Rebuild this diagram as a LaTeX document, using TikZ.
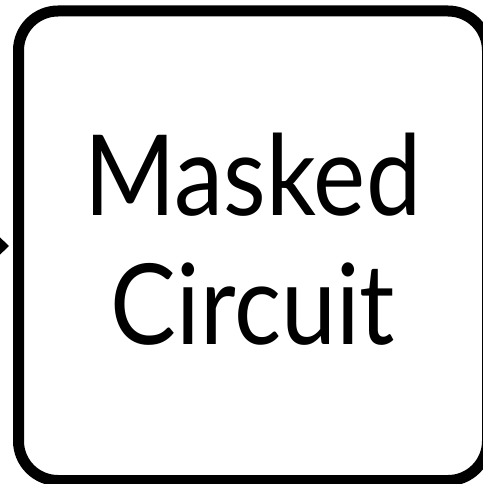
\documentclass[tikz,border=0pt]{standalone}
\usepackage{fontspec}
\setmainfont{Lato}[FakeStretch=0.88]
\usetikzlibrary{arrows.meta}
\begin{document}
\begin{tikzpicture}[x=1pt,y=-1pt,
 box/.style={draw=black, line width=11pt, rounded corners=39.5pt, minimum width=469pt, minimum height=469.5pt, inner sep=0pt},
 txt/.style={inner sep=0pt, align=center, font=\fontsize{112}{129}\selectfont},
 arr/.style={-{Triangle[length=14pt,width=26pt]}, line width=4pt, shorten >=4pt}]
\useasboundingbox (0,0) rectangle (482,484);
\node[box] (mc) at (253,245.75) {};
\node[txt] (lbl) at ([yshift=7pt]mc.center) {Masked\\Circuit};
\coordinate (src) at (-60,246);
\draw[arr] (src) -- (mc.west |- src);
\end{tikzpicture}
\end{document}
